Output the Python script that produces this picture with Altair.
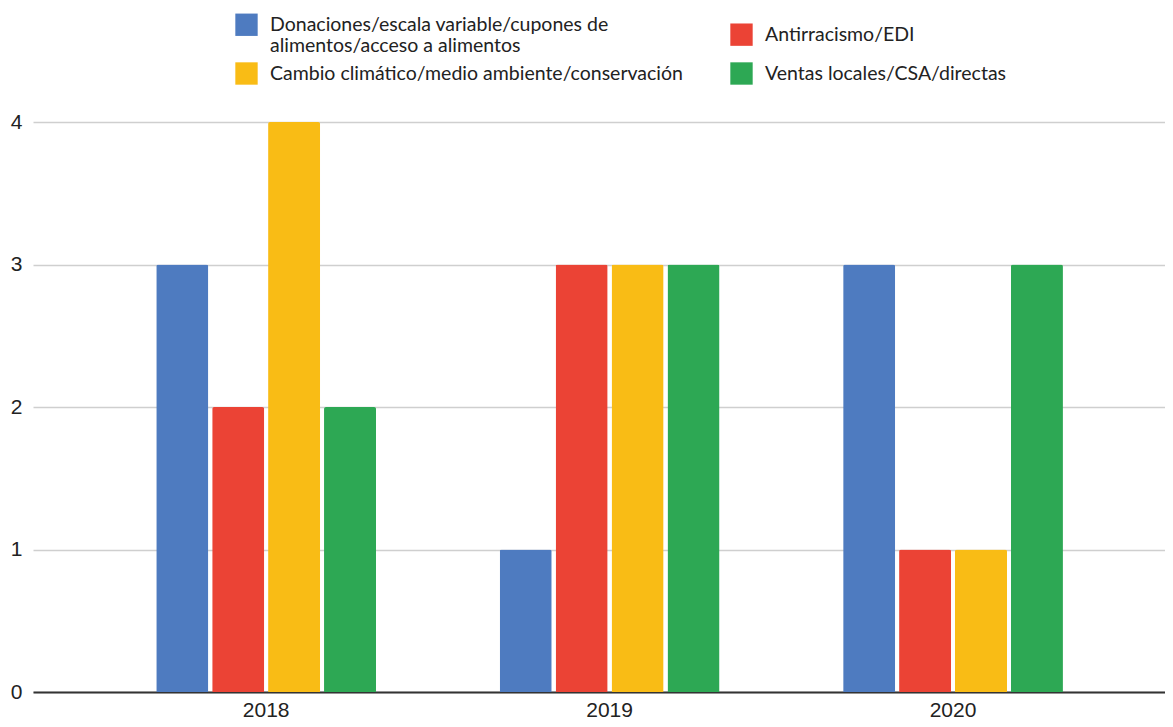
import altair as alt
import pandas as pd

years = ["2018", "2019", "2020"]
series = [
    "Donaciones/escala variable/cupones de alimentos/acceso a alimentos",
    "Antirracismo/EDI",
    "Cambio climático/medio ambiente/conservación",
    "Ventas locales/CSA/directas",
]
donaciones = [3, 1, 3]
antirracismo = [2, 3, 1]
cambio = [4, 3, 1]
ventas = [2, 3, 3]
colors = ["#4E7BC0", "#EB4335", "#F9BC15", "#2DA854"]
y_ticks = [0, 1, 2, 3, 4]

rows = []
for s, vals in zip(series, [donaciones, antirracismo, cambio, ventas]):
    for y, v in zip(years, vals):
        rows.append({"year": y, "serie": s, "value": v})
df = pd.DataFrame(rows)

# legend fills column-first, so order the colour domain to read row-wise
legend_order = [series[0], series[2], series[1], series[3]]
legend_colors = [colors[0], colors[2], colors[1], colors[3]]

label_expr = (
    "datum.label == '" + series[0] + "' ? "
    "['Donaciones/escala variable/cupones de', 'alimentos/acceso a alimentos'] : datum.label"
)

chart = (
    alt.Chart(df)
    .mark_bar(cornerRadiusTopLeft=2, cornerRadiusTopRight=2)
    .encode(
        x=alt.X(
            "year:N",
            sort=years,
            title=None,
            scale=alt.Scale(paddingInner=0.36, paddingOuter=0.328, align=0.547),
            axis=alt.Axis(
                labelAngle=0,
                labelFont="Liberation Sans",
                labelFontSize=21,
                labelColor="#222222",
                labelPadding=7,
                ticks=False,
                domainColor="#333333",
                domainWidth=2,
                grid=False,
            ),
        ),
        xOffset=alt.XOffset(
            "serie:N", sort=series, scale=alt.Scale(paddingInner=0.07, paddingOuter=0)
        ),
        y=alt.Y(
            "value:Q",
            title=None,
            scale=alt.Scale(domain=[0, 4], nice=False),
            axis=alt.Axis(
                values=y_ticks,
                labelFont="Liberation Sans",
                labelFontSize=21,
                labelColor="#222222",
                labelPadding=11,
                ticks=False,
                domain=False,
                gridColor="#CFCFCF",
                gridWidth=1.5,
                labelOverlap=False,
            ),
        ),
        color=alt.Color(
            "serie:N",
            scale=alt.Scale(domain=legend_order, range=legend_colors),
            legend=alt.Legend(
                title=None,
                orient="none",
                legendX=202,
                legendY=-109,
                columns=2,
                columnPadding=47,
                rowPadding=6,
                symbolType="square",
                symbolSize=500,
                symbolStrokeWidth=0,
                symbolOpacity=1,
                labelFont="Lato",
                labelFontSize=19.5,
                labelColor="#222222",
                labelLimit=700,
                labelOffset=12,
                labelExpr=label_expr,
            ),
        ),
    )
    .properties(
        width=1132,
        height=570,
        autosize=alt.AutoSizeParams(type="none"),
        padding={"left": 25, "top": 114, "right": 0, "bottom": 27},
    )
    .configure_view(stroke=None)
)

chart.save("out.html", embed_options={"renderer": "svg", "actions": False})
